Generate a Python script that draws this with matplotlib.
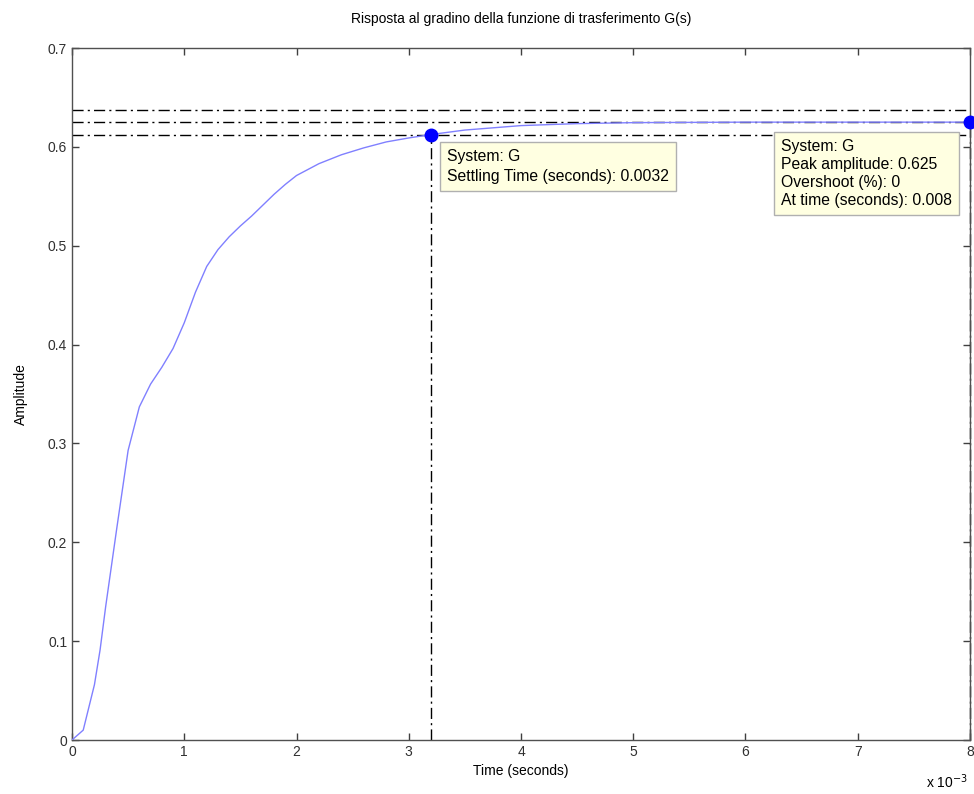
import matplotlib
matplotlib.use("Agg")
import matplotlib.pyplot as plt
import numpy as np

plt.rcParams['font.family'] = ['Liberation Sans', 'DejaVu Sans']

# Data (time in ms, i.e. x 10^-3 s)
t_ms = [0, 0.1, 0.2, 0.25, 0.3, 0.4, 0.5, 0.6, 0.7, 0.8, 0.9, 1.0, 1.1, 1.2, 1.3,
        1.4, 1.5, 1.6, 1.7, 1.8, 1.9, 2.0, 2.2, 2.4, 2.6, 2.8, 3.0, 3.2, 3.5,
        4.0, 4.5, 5.0, 6.0, 7.0, 8.0]
amplitude = [0, 0.010, 0.056, 0.091, 0.135, 0.215, 0.293, 0.337, 0.360, 0.377, 0.396,
             0.422, 0.453, 0.479, 0.496, 0.509, 0.520, 0.530, 0.541, 0.552, 0.562,
             0.571, 0.583, 0.592, 0.599, 0.605, 0.609, 0.6125, 0.617, 0.6215,
             0.6235, 0.6245, 0.625, 0.625, 0.625]
final_value = 0.625
settling_time_ms = 3.2
settling_value = 0.6125
peak_time_ms = 8.0
peak_value = 0.625

x_ticks = [0, 1, 2, 3, 4, 5, 6, 7, 8]
y_ticks = [0, 0.1, 0.2, 0.3, 0.4, 0.5, 0.6, 0.7]

fig = plt.figure(figsize=(9.74, 7.94), dpi=100)
ax = fig.add_axes([72/974, 54/794, 898/974, 692/794])

ax.plot(t_ms, amplitude, color='#8080ff', lw=1.0, zorder=3)

dd = (8, 3, 1.5, 3)
for yv in (0.98 * final_value, final_value, 1.02 * final_value):
    ax.axhline(yv, color='black', ls=(0, dd), lw=1.0, zorder=2)
ax.plot([settling_time_ms, settling_time_ms], [0, settling_value], color='black', ls=(0, dd), lw=1.0, zorder=2)
ax.plot([peak_time_ms, peak_time_ms], [0, peak_value], color='black', ls=(0, dd), lw=1.0, zorder=2, clip_on=False)

ax.plot([settling_time_ms], [settling_value], 'o', color='#0000ff', ms=9, zorder=5, clip_on=False)
ax.plot([peak_time_ms], [peak_value], 'o', color='#0000ff', ms=9, zorder=5, clip_on=False)

box = dict(boxstyle='square,pad=0.45', fc='#ffffe1', ec='#b0b0b0', lw=1)
ax.text(3.34, 0.598, "System: G\nSettling Time (seconds): 0.0032", fontsize=11.3,
        va='top', ha='left', bbox=box, linespacing=1.45, zorder=6)
ax.text(6.32, 0.608, "System: G\nPeak amplitude: 0.625\nOvershoot (%): 0\nAt time (seconds): 0.008",
        fontsize=11.3, va='top', ha='left', bbox=box, linespacing=1.25, zorder=6)

ax.set_xlim(0, 8)
ax.set_ylim(0, 0.7)
ax.set_xticks(x_ticks)
ax.set_xticklabels([str(v) for v in x_ticks])
ax.set_yticks(y_ticks)
ax.set_yticklabels(['0' if v == 0 else f'{v:g}' for v in y_ticks])
ax.tick_params(direction='in', length=5, top=True, right=True, labelsize=10,
               colors='#404040', labelcolor='#303030', width=1)
for s in ax.spines.values():
    s.set_color('#505050')
    s.set_linewidth(1)

ax.set_xlabel('Time (seconds)', fontsize=10, labelpad=4)
ax.set_ylabel('Amplitude', fontsize=10, labelpad=14)
ax.set_title('Risposta al gradino della funzione di trasferimento G(s)', fontsize=10, pad=18)
fig.text(926/974, 1 - 788/794, r'x 10$^{-3}$', fontsize=10, ha='left', va='baseline')

fig.savefig('out.png', dpi=100, facecolor='white')
